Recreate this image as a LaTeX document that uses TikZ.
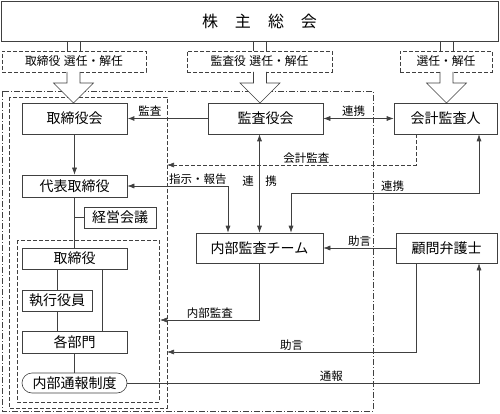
\documentclass[tikz,border=0pt]{standalone}
\usepackage{fontspec}
\setmainfont{Noto Sans CJK JP}
\usetikzlibrary{arrows.meta,calc}

\begin{document}
\begin{tikzpicture}[x=1pt,y=-1pt,
	orgbox/.style={draw=black!75, line width=.6pt, inner sep=0pt, font=\fontsize{14}{16}\selectfont},
	selbox/.style={draw=black!75, line width=.6pt, dash pattern=on 4pt off 2pt, inner sep=0pt, font=\fontsize{11.8}{13}\selectfont},
	con/.style={draw=black!75, line width=.6pt},
	arr/.style={con, -{Latex[length=7pt,width=5pt]}},
	arrr/.style={con, {Latex[length=7pt,width=5pt]}-{Latex[length=7pt,width=5pt]}},
	lbl/.style={font=\fontsize{11.5}{13}\selectfont, inner sep=1.5pt},
	grpframe/.style={draw=black!75, line width=.6pt, dash pattern=on 4pt off 2pt}]
	\useasboundingbox (0,0) rectangle (500,414);

	% frames
	\draw[grpframe, dash pattern=on 6pt off 2pt on 1pt off 2pt] (2,91) rectangle (373,411);
	\draw[grpframe] (9,97) rectangle (167,408);
	\draw[grpframe] (17,240) rectangle (159,402);
	\coordinate (kansa-in) at (167,165);
	\coordinate (naibu-in) at (160,320);
	\coordinate (jogen-in) at (167,352);

	% shareholders and elections
	\node[orgbox, minimum width=497pt, minimum height=40pt, font=\fontsize{16}{18}\selectfont] (kabu) at (249.5,21)
		{\hspace*{20pt}株\hspace{17pt}主\hspace{17pt}総\hspace{17pt}会};
	\node[selbox, minimum width=144pt, minimum height=21pt] (sel1) at (74,61.5) {取締役\hspace{0.3em}選任・解任};
	\node[selbox, minimum width=145pt, minimum height=21pt] (sel2) at (259.5,61.5) {監査役\hspace{0.3em}選任・解任};
	\node[selbox, minimum width=92pt, minimum height=21pt] (sel3) at (446,61.5) {選任・解任};
	\foreach \x in {73.5,260,446.5}{
		\draw[con] (\x-6.5,41) -- (\x-6.5,51) (\x+6.5,41) -- (\x+6.5,51);
		\draw[con, fill=white] (\x-6.5,72) -- (\x-6.5,83) -- (\x-20,83) -- (\x,103) -- (\x+20,83) -- (\x+6.5,83) -- (\x+6.5,72);
	}

	% boxes
	\node[orgbox, minimum width=105pt, minimum height=31pt] (torikai) at (74.5,118.5) {取締役会};
	\node[orgbox, minimum width=115pt, minimum height=31pt] (kansakai) at (265.5,118.5) {監査役会};
	\node[orgbox, minimum width=103pt, minimum height=31pt] (kaikei) at (445.5,118.5) {会計監査人};
	\node[orgbox, minimum width=105pt, minimum height=22pt] (daihyo) at (74.5,186) {代表取締役};
	\node[orgbox, minimum width=72pt, minimum height=21pt] (keiei) at (120,217.5) {経営会議};
	\node[orgbox, minimum width=105pt, minimum height=21pt] (torishimari) at (74.5,258.5) {取締役};
	\node[orgbox, minimum width=70pt, minimum height=21pt] (shikko) at (57,300.5) {執行役員};
	\node[orgbox, minimum width=105pt, minimum height=22pt] (bumon) at (74.5,342) {各部門};
	\node[orgbox, minimum width=105pt, minimum height=20pt, rounded corners=10pt] (tsuho) at (74.5,383) {内部通報制度};
	\node[orgbox, minimum width=127pt, minimum height=30pt] (naibu) at (259.5,248) {内部監査チーム};
	\node[orgbox, minimum width=101pt, minimum height=30pt] (bengoshi) at (446.5,248) {顧問弁護士};

	% connectors
	\draw[arr, line width=1.6pt] (kansakai) -- node[lbl, above, pos=.72] {監査} (torikai);
	\draw[arrr] (kansakai) -- node[lbl, above, xshift=-5pt] {連携} (kaikei);
	\draw[arr, dash pattern=on 4pt off 2pt] ([xshift=-29.5pt]kaikei.south) |- node[lbl, above, pos=.72] {会計監査} (kansa-in);
	\draw[arr] (torikai) -- (daihyo);
	\draw[arrr] (daihyo.east) -| node[lbl, above, pos=.35] {指示・報告} ([xshift=-31.5pt]naibu.north);
	\draw[arrr] (naibu.north |- kansakai.south) -- node[lbl, pos=.48] {連\hspace{1em}携} (naibu.north);
	\draw[arrr] ([xshift=31.5pt]naibu.north) -- ++(0,-39) -| node[lbl, above, pos=.27] {連携} ([xshift=33.5pt]kaikei.south);
	\draw[arr] (bengoshi) -- node[lbl, above] {助言} (naibu);
	\draw[con] (daihyo.south |- keiei.west) -- (keiei.west);
	\draw[con] (daihyo) -- (torishimari);
	\draw[con] (shikko.north |- torishimari.south) -- (shikko);
	\draw[con] (shikko) -- (shikko |- bumon.north);
	\draw[con] ([xshift=27.5pt]torishimari.south) -- ([xshift=27.5pt]bumon.north);
	\draw[con] (bumon) -- (tsuho);
	\draw[arr] (naibu.south) |- node[lbl, above, pos=.75] {内部監査} (naibu-in);
	\draw[arr] ([xshift=-30.5pt]bengoshi.south) |- node[lbl, above, pos=.75] {助言} (jogen-in);
	\draw[arr] (tsuho.east) -| node[lbl, above, pos=.29] {通報} ([xshift=32.5pt]bengoshi.south);
\end{tikzpicture}
\end{document}
